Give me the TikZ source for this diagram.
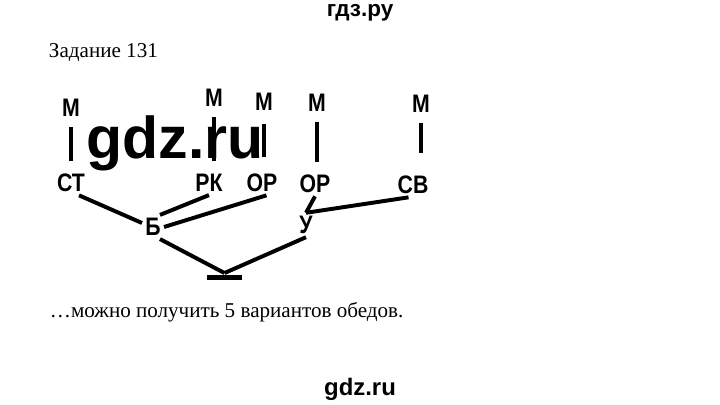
\documentclass[tikz,border=0pt]{standalone}
\usepackage{fontspec}
\setmainfont{Liberation Serif}
\newfontfamily\sansfont{Liberation Sans}
\newfontfamily\labelfont[FakeStretch=0.84]{Liberation Sans}

\begin{document}
\begin{tikzpicture}[x=0.025cm, y=-0.025cm, line width=2.8pt]
		\tikzstyle{letter} = [font=\labelfont\bfseries\fontsize{18}{18}\selectfont, inner sep=1pt]
		\tikzstyle{stem} = [shorten <=5pt, shorten >=7pt]
		\tikzstyle{bar} = [fill=black, minimum width=0.875cm, minimum height=0.125cm, inner sep=0pt]
		\tikzstyle{sitemark} = [font=\sansfont\bfseries\fontsize{17}{17}\selectfont, anchor=base, inner sep=0pt]

		\useasboundingbox (0,0) rectangle (720,405);

		% texts of the page
		\node[sitemark, font=\sansfont\bfseries\fontsize{16}{16}\selectfont] (title) at (360,17) {гдз.ру};
		\node[anchor=base west, inner sep=0pt, font=\fontsize{15}{16}\selectfont] (task) at (47,58) {Задание 131};
		\node[sitemark, text height=27pt, font=\sansfont\bfseries\fontsize{42}{42}\selectfont] (wm) at (175,159) {gdz.ru};
		\node[anchor=base west, inner sep=0pt, font=\fontsize{15}{16}\selectfont] (answer) at (48,317) {…можно получить 5 вариантов обедов.};
		\node[sitemark] (footer) at (360,395) {gdz.ru};

		% tree
		\path
		node[letter] (m1) at (71,108) {М}
		node[letter] (m2) at (214,98) {М}
		node[letter] (m3) at (264,102) {М}
		node[letter] (m4) at (317,103) {М}
		node[letter] (m5) at (421,104) {М}
		node[letter] (st) at (71,183) {СТ}
		node[letter] (rk) at (209,183) {РК}
		node[letter] (or1) at (262,183) {ОР}
		node[letter] (or2) at (315,184) {ОР}
		node[letter] (sv) at (413,185) {СВ}
		node[letter] (b) at (153,227) {Б}
		node[letter] (u) at (306,225) {У}
		node[bar] (root) at (224.5,277.5) {}
		;

		\draw[stem] (m1.south) -- (m1.south |- st.north);
		\draw[stem] (m2.south) -- (m2.south |- rk.north);
		\draw[stem, shorten <=7pt, shorten >=10pt] (m3.south) -- (m3.south |- or1.north);
		\draw[stem] (m4.south) -- (m4.south |- or2.north);
		\draw[stem, shorten >=14pt] (m5.south) -- (m5.south |- sv.north);

		\draw (st.-57) -- (b.160);
		\draw (rk.south) -- (b.60);
		\draw (or1.-70) -- (b.east);
		\draw (or2.south) -- (u.north);
		\draw (sv.-110) -- (u.north);
		\draw (b.-60) -- (root.north);
		\draw (u.south) -- (root.north);
\end{tikzpicture}
\end{document}
